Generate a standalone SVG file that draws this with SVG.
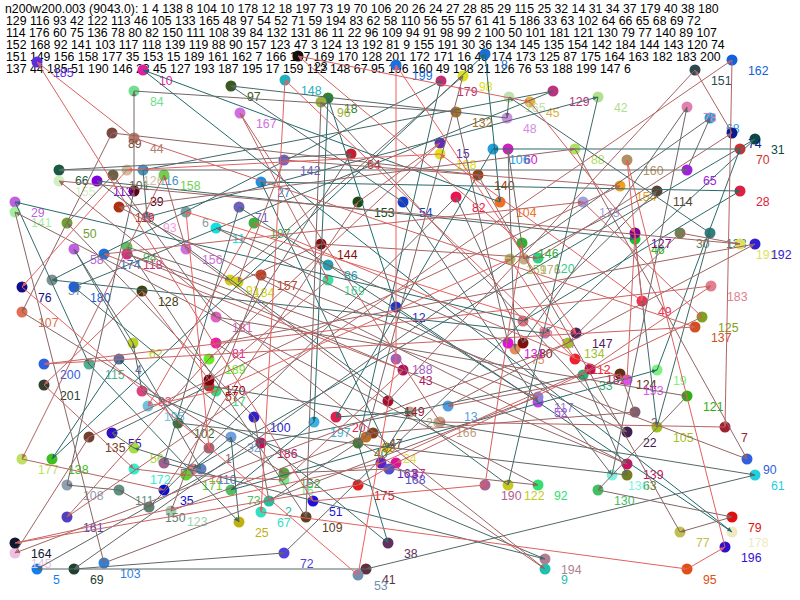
<svg xmlns="http://www.w3.org/2000/svg" width="800" height="600" viewBox="0 0 800 600">
<style>
text{font-family:"Liberation Sans",Arial,sans-serif;font-size:12.3px}
.hd text{fill:#000}
#edges line{stroke-width:1;fill:none}
</style>
<defs>
<marker id="m0" markerUnits="userSpaceOnUse" markerWidth="6" markerHeight="6" refX="5" refY="2" orient="auto"><path d="M0,0L5,2L0,4z" fill="#1f6a6a"/></marker>
<marker id="m1" markerUnits="userSpaceOnUse" markerWidth="6" markerHeight="6" refX="5" refY="2" orient="auto"><path d="M0,0L5,2L0,4z" fill="#2a6969"/></marker>
<marker id="m2" markerUnits="userSpaceOnUse" markerWidth="6" markerHeight="6" refX="5" refY="2" orient="auto"><path d="M0,0L5,2L0,4z" fill="#356969"/></marker>
<marker id="m3" markerUnits="userSpaceOnUse" markerWidth="6" markerHeight="6" refX="5" refY="2" orient="auto"><path d="M0,0L5,2L0,4z" fill="#3f6868"/></marker>
<marker id="m4" markerUnits="userSpaceOnUse" markerWidth="6" markerHeight="6" refX="5" refY="2" orient="auto"><path d="M0,0L5,2L0,4z" fill="#4a6868"/></marker>
<marker id="m5" markerUnits="userSpaceOnUse" markerWidth="6" markerHeight="6" refX="5" refY="2" orient="auto"><path d="M0,0L5,2L0,4z" fill="#556767"/></marker>
<marker id="m6" markerUnits="userSpaceOnUse" markerWidth="6" markerHeight="6" refX="5" refY="2" orient="auto"><path d="M0,0L5,2L0,4z" fill="#606767"/></marker>
<marker id="m7" markerUnits="userSpaceOnUse" markerWidth="6" markerHeight="6" refX="5" refY="2" orient="auto"><path d="M0,0L5,2L0,4z" fill="#6a6666"/></marker>
<marker id="m8" markerUnits="userSpaceOnUse" markerWidth="6" markerHeight="6" refX="5" refY="2" orient="auto"><path d="M0,0L5,2L0,4z" fill="#756666"/></marker>
<marker id="m9" markerUnits="userSpaceOnUse" markerWidth="6" markerHeight="6" refX="5" refY="2" orient="auto"><path d="M0,0L5,2L0,4z" fill="#806565"/></marker>
<marker id="m10" markerUnits="userSpaceOnUse" markerWidth="6" markerHeight="6" refX="5" refY="2" orient="auto"><path d="M0,0L5,2L0,4z" fill="#8a6565"/></marker>
<marker id="m11" markerUnits="userSpaceOnUse" markerWidth="6" markerHeight="6" refX="5" refY="2" orient="auto"><path d="M0,0L5,2L0,4z" fill="#956464"/></marker>
<marker id="m12" markerUnits="userSpaceOnUse" markerWidth="6" markerHeight="6" refX="5" refY="2" orient="auto"><path d="M0,0L5,2L0,4z" fill="#a06464"/></marker>
<marker id="m13" markerUnits="userSpaceOnUse" markerWidth="6" markerHeight="6" refX="5" refY="2" orient="auto"><path d="M0,0L5,2L0,4z" fill="#aa6363"/></marker>
<marker id="m14" markerUnits="userSpaceOnUse" markerWidth="6" markerHeight="6" refX="5" refY="2" orient="auto"><path d="M0,0L5,2L0,4z" fill="#b56363"/></marker>
<marker id="m15" markerUnits="userSpaceOnUse" markerWidth="6" markerHeight="6" refX="5" refY="2" orient="auto"><path d="M0,0L5,2L0,4z" fill="#c06262"/></marker>
<marker id="m16" markerUnits="userSpaceOnUse" markerWidth="6" markerHeight="6" refX="5" refY="2" orient="auto"><path d="M0,0L5,2L0,4z" fill="#cb6262"/></marker>
<marker id="m17" markerUnits="userSpaceOnUse" markerWidth="6" markerHeight="6" refX="5" refY="2" orient="auto"><path d="M0,0L5,2L0,4z" fill="#d56161"/></marker>
<marker id="m18" markerUnits="userSpaceOnUse" markerWidth="6" markerHeight="6" refX="5" refY="2" orient="auto"><path d="M0,0L5,2L0,4z" fill="#e06161"/></marker>
<marker id="m19" markerUnits="userSpaceOnUse" markerWidth="6" markerHeight="6" refX="5" refY="2" orient="auto"><path d="M0,0L5,2L0,4z" fill="#eb6060"/></marker>
</defs>
<rect width="800" height="600" fill="#fff"/>
<g class="hd" id="header">
<text x="5" y="13">n200w200.003 (9043.0): 1 4 138 8 104 10 178 12 18 197 73 19 70 106 20 26 24 27 28 85 29 115 25 32 14 31 34 37 179 40 38 180</text>
<text x="6" y="25">129 116 93 42 122 113 46 105 133 165 48 97 54 52 71 59 194 83 62 58 110 56 55 57 61 41 5 186 33 63 102 64 66 65 68 69 72</text>
<text x="6" y="37">114 176 60 75 136 78 80 82 150 111 108 39 84 132 131 86 11 22 96 109 94 91 98 99 2 100 50 101 181 121 130 79 77 140 89 107</text>
<text x="6" y="49">152 168 92 141 103 117 118 139 119 88 90 157 123 47 3 124 13 192 81 9 155 191 30 36 134 145 135 154 142 184 144 143 120 74</text>
<text x="6" y="61">151 149 156 158 177 35 153 15 189 161 162 7 166 167 169 170 128 201 172 171 16 43 174 173 125 87 175 164 163 182 183 200</text>
<text x="6" y="73">137 44 185 51 190 146 23 45 127 193 187 195 17 159 112 148 67 95 196 160 49 198 21 126 76 53 188 199 147 6</text>
</g>
<g id="nodes">
<g id="n1" fill="#b06070"><text x="225" y="463">1</text><circle cx="209" cy="448" r="5.5"/></g>
<g id="n2" fill="#20c0a0"><text x="285" y="516">2</text><circle cx="269" cy="501" r="5.5"/></g>
<g id="n3" fill="#806070"><text x="651" y="427">3</text><circle cx="635" cy="412" r="5.5"/></g>
<g id="n4" fill="#6070a0"><text x="135" y="374">4</text><circle cx="119" cy="359" r="5.5"/></g>
<g id="n5" fill="#1080f0"><text x="53" y="584">5</text><circle cx="37" cy="569" r="5.5"/></g>
<g id="n6" fill="#80a0a0"><text x="202" y="227">6</text><circle cx="186" cy="212" r="5.5"/></g>
<g id="n7" fill="#a02030"><text x="741" y="442">7</text><circle cx="725" cy="427" r="5.5"/></g>
<g id="n8" fill="#1a70d0"><text x="501" y="69">8</text><circle cx="485" cy="54" r="5.5"/></g>
<g id="n9" fill="#20c0b0"><text x="561" y="584">9</text><circle cx="545" cy="569" r="5.5"/></g>
<g id="n10" fill="#e020a0"><text x="159" y="85">10</text><circle cx="143" cy="70" r="5.5"/></g>
<g id="n11" fill="#10e0e0"><text x="232" y="243">11</text><circle cx="216" cy="228" r="5.5"/></g>
<g id="n12" fill="#2030d0"><text x="412" y="322">12</text><circle cx="396" cy="307" r="5.5"/></g>
<g id="n13" fill="#50a0e0"><text x="464" y="421">13</text><circle cx="448" cy="406" r="5.5"/></g>
<g id="n14" fill="#e08080"><text x="209" y="484">14</text><circle cx="193" cy="469" r="5.5"/></g>
<g id="n15" fill="#6030b0"><text x="456" y="158">15</text><circle cx="440" cy="143" r="5.5"/></g>
<g id="n16" fill="#70f090"><text x="300" y="495">16</text><circle cx="284" cy="480" r="5.5"/></g>
<g id="n17" fill="#30e080"><text x="232" y="406">17</text><circle cx="216" cy="391" r="5.5"/></g>
<g id="n18" fill="#308030"><text x="344" y="113">18</text><circle cx="328" cy="98" r="5.5"/></g>
<g id="n19" fill="#80f080"><text x="673" y="385">19</text><circle cx="657" cy="370" r="5.5"/></g>
<g id="n20" fill="#e02050"><text x="352" y="432">20</text><circle cx="336" cy="417" r="5.5"/></g>
<g id="n22" fill="#402050"><text x="643" y="447">22</text><circle cx="627" cy="432" r="5.5"/></g>
<g id="n23" fill="#101010"><text x="314" y="71">23</text><circle cx="298" cy="56" r="5.5"/></g>
<g id="n24" fill="#e0e040"><text x="403" y="463">24</text><circle cx="387" cy="448" r="5.5"/></g>
<g id="n25" fill="#c0b010"><text x="255" y="537">25</text><circle cx="239" cy="522" r="5.5"/></g>
<g id="n26" fill="#c0a080"><text x="426" y="427">26</text><circle cx="410" cy="412" r="5.5"/></g>
<g id="n27" fill="#2090e0"><text x="277" y="197">27</text><circle cx="261" cy="182" r="5.5"/></g>
<g id="n28" fill="#e02040"><text x="756" y="206">28</text><circle cx="740" cy="191" r="5.5"/></g>
<g id="n29" fill="#c060e0"><text x="31" y="217">29</text><circle cx="15" cy="202" r="5.5"/></g>
<g id="n30" fill="#708050"><text x="696" y="248">30</text><circle cx="680" cy="233" r="5.5"/></g>
<g id="n31" fill="#0a4a40"><text x="771" y="154">31</text><circle cx="755" cy="139" r="5.5"/></g>
<g id="n32" fill="#70a0e0"><text x="247" y="452">32</text><circle cx="231" cy="437" r="5.5"/></g>
<g id="n33" fill="#30b070"><text x="599" y="390">33</text><circle cx="583" cy="375" r="5.5"/></g>
<g id="n34" fill="#c070a0"><text x="561" y="348">34</text><circle cx="545" cy="333" r="5.5"/></g>
<g id="n35" fill="#1010d0"><text x="180" y="505">35</text><circle cx="164" cy="490" r="5.5"/></g>
<g id="n37" fill="#809090"><text x="68" y="295">37</text><circle cx="52" cy="280" r="5.5"/></g>
<g id="n38" fill="#603060"><text x="404" y="558">38</text><circle cx="388" cy="543" r="5.5"/></g>
<g id="n39" fill="#600020"><text x="150" y="206">39</text><circle cx="134" cy="191" r="5.5"/></g>
<g id="n40" fill="#408030"><text x="374" y="458">40</text><circle cx="358" cy="443" r="5.5"/></g>
<g id="n41" fill="#603040"><text x="382" y="584">41</text><circle cx="366" cy="569" r="5.5"/></g>
<g id="n42" fill="#b0e090"><text x="614" y="112">42</text><circle cx="598" cy="97" r="5.5"/></g>
<g id="n43" fill="#b01060"><text x="419" y="385">43</text><circle cx="403" cy="370" r="5.5"/></g>
<g id="n44" fill="#b08070"><text x="150" y="153">44</text><circle cx="134" cy="138" r="5.5"/></g>
<g id="n45" fill="#e0b040"><text x="546" y="117">45</text><circle cx="530" cy="102" r="5.5"/></g>
<g id="n46" fill="#20c020"><text x="651" y="254">46</text><circle cx="635" cy="239" r="5.5"/></g>
<g id="n47" fill="#804020"><text x="389" y="448">47</text><circle cx="373" cy="433" r="5.5"/></g>
<g id="n48" fill="#d090e0"><text x="523" y="133">48</text><circle cx="507" cy="118" r="5.5"/></g>
<g id="n49" fill="#f03050"><text x="658" y="316">49</text><circle cx="642" cy="301" r="5.5"/></g>
<g id="n50" fill="#70a030"><text x="83" y="238">50</text><circle cx="67" cy="223" r="5.5"/></g>
<g id="n51" fill="#2010e0"><text x="329" y="516">51</text><circle cx="313" cy="501" r="5.5"/></g>
<g id="n52" fill="#c040f0"><text x="554" y="417">52</text><circle cx="538" cy="402" r="5.5"/></g>
<g id="n53" fill="#7090b0"><text x="374" y="590">53</text><circle cx="358" cy="575" r="5.5"/></g>
<g id="n54" fill="#1040d0"><text x="419" y="217">54</text><circle cx="403" cy="202" r="5.5"/></g>
<g id="n55" fill="#3010c0"><text x="128" y="448">55</text><circle cx="112" cy="433" r="5.5"/></g>
<g id="n56" fill="#a0e040"><text x="150" y="463">56</text><circle cx="134" cy="448" r="5.5"/></g>
<g id="n57" fill="#c03020"><text x="225" y="401">57</text><circle cx="209" cy="386" r="5.5"/></g>
<g id="n58" fill="#c060e0"><text x="90" y="264">58</text><circle cx="74" cy="249" r="5.5"/></g>
<g id="n59" fill="#a06090"><text x="180" y="478">59</text><circle cx="164" cy="463" r="5.5"/></g>
<g id="n60" fill="#d020c0"><text x="524" y="164">60</text><circle cx="508" cy="149" r="5.5"/></g>
<g id="n61" fill="#20d0e0"><text x="771" y="490">61</text><circle cx="755" cy="475" r="5.5"/></g>
<g id="n62" fill="#c0d020"><text x="149" y="358">62</text><circle cx="133" cy="343" r="5.5"/></g>
<g id="n63" fill="#708020"><text x="643" y="490">63</text><circle cx="627" cy="475" r="5.5"/></g>
<g id="n64" fill="#c02030"><text x="367" y="169">64</text><circle cx="351" cy="154" r="5.5"/></g>
<g id="n65" fill="#a020e0"><text x="703" y="185">65</text><circle cx="687" cy="170" r="5.5"/></g>
<g id="n66" fill="#1a5a40"><text x="75" y="185">66</text><circle cx="59" cy="170" r="5.5"/></g>
<g id="n67" fill="#30e0c0"><text x="277" y="527">67</text><circle cx="261" cy="512" r="5.5"/></g>
<g id="n68" fill="#20a0e0"><text x="726" y="133">68</text><circle cx="710" cy="118" r="5.5"/></g>
<g id="n69" fill="#204030"><text x="90" y="584">69</text><circle cx="74" cy="569" r="5.5"/></g>
<g id="n70" fill="#d03030"><text x="756" y="164">70</text><circle cx="740" cy="149" r="5.5"/></g>
<g id="n71" fill="#7060c0"><text x="255" y="222">71</text><circle cx="239" cy="207" r="5.5"/></g>
<g id="n72" fill="#5040e0"><text x="300" y="568">72</text><circle cx="284" cy="553" r="5.5"/></g>
<g id="n73" fill="#50c060"><text x="247" y="505">73</text><circle cx="231" cy="490" r="5.5"/></g>
<g id="n74" fill="#0a1a90"><text x="748" y="148">74</text><circle cx="732" cy="133" r="5.5"/></g>
<g id="n75" fill="#e09060"><text x="531" y="364">75</text><circle cx="515" cy="349" r="5.5"/></g>
<g id="n76" fill="#10108a"><text x="38" y="302">76</text><circle cx="22" cy="287" r="5.5"/></g>
<g id="n77" fill="#c0c050"><text x="696" y="547">77</text><circle cx="680" cy="532" r="5.5"/></g>
<g id="n78" fill="#e080b0"><text x="703" y="122">78</text><circle cx="687" cy="107" r="5.5"/></g>
<g id="n79" fill="#e01010"><text x="748" y="532">79</text><circle cx="732" cy="517" r="5.5"/></g>
<g id="n80" fill="#801010"><text x="539" y="358">80</text><circle cx="523" cy="343" r="5.5"/></g>
<g id="n81" fill="#f020a0"><text x="232" y="358">81</text><circle cx="216" cy="343" r="5.5"/></g>
<g id="n82" fill="#f01050"><text x="472" y="212">82</text><circle cx="456" cy="197" r="5.5"/></g>
<g id="n83" fill="#e04080"><text x="158" y="406">83</text><circle cx="142" cy="391" r="5.5"/></g>
<g id="n84" fill="#70e090"><text x="150" y="106">84</text><circle cx="134" cy="91" r="5.5"/></g>
<g id="n85" fill="#e07080"><text x="539" y="336">85</text><circle cx="523" cy="321" r="5.5"/></g>
<g id="n86" fill="#20a0b0"><text x="344" y="280">86</text><circle cx="328" cy="265" r="5.5"/></g>
<g id="n87" fill="#e010a0"><text x="412" y="478">87</text><circle cx="396" cy="463" r="5.5"/></g>
<g id="n88" fill="#b0e060"><text x="591" y="164">88</text><circle cx="575" cy="149" r="5.5"/></g>
<g id="n89" fill="#7a4a40"><text x="128" y="148">89</text><circle cx="112" cy="133" r="5.5"/></g>
<g id="n90" fill="#3060e0"><text x="763" y="474">90</text><circle cx="747" cy="459" r="5.5"/></g>
<g id="n91" fill="#d0d020"><text x="246" y="295">91</text><circle cx="230" cy="280" r="5.5"/></g>
<g id="n92" fill="#30e070"><text x="554" y="500">92</text><circle cx="538" cy="485" r="5.5"/></g>
<g id="n93" fill="#f0a0e0"><text x="163" y="232">93</text><circle cx="147" cy="217" r="5.5"/></g>
<g id="n94" fill="#60c060"><text x="143" y="262">94</text><circle cx="127" cy="247" r="5.5"/></g>
<g id="n95" fill="#e05010"><text x="703" y="584">95</text><circle cx="687" cy="569" r="5.5"/></g>
<g id="n96" fill="#a0b040"><text x="337" y="117">96</text><circle cx="321" cy="102" r="5.5"/></g>
<g id="n97" fill="#3a5a20"><text x="247" y="101">97</text><circle cx="231" cy="86" r="5.5"/></g>
<g id="n98" fill="#e0e020"><text x="479" y="91">98</text><circle cx="463" cy="76" r="5.5"/></g>
<g id="n99" fill="#c07020"><text x="382" y="452">99</text><circle cx="366" cy="437" r="5.5"/></g>
<g id="n100" fill="#3020d0"><text x="270" y="432">100</text><circle cx="254" cy="417" r="5.5"/></g>
<g id="n101" fill="#706040"><text x="129" y="190">101</text><circle cx="113" cy="175" r="5.5"/></g>
<g id="n102" fill="#407030"><text x="194" y="438">102</text><circle cx="178" cy="423" r="5.5"/></g>
<g id="n103" fill="#3080e0"><text x="120" y="578">103</text><circle cx="104" cy="563" r="5.5"/></g>
<g id="n104" fill="#f07020"><text x="516" y="217">104</text><circle cx="500" cy="202" r="5.5"/></g>
<g id="n105" fill="#a0c020"><text x="673" y="442">105</text><circle cx="657" cy="427" r="5.5"/></g>
<g id="n106" fill="#20a0e0"><text x="509" y="164">106</text><circle cx="493" cy="149" r="5.5"/></g>
<g id="n107" fill="#e07050"><text x="38" y="327">107</text><circle cx="22" cy="312" r="5.5"/></g>
<g id="n108" fill="#90a0b0"><text x="83" y="500">108</text><circle cx="67" cy="485" r="5.5"/></g>
<g id="n109" fill="#604020"><text x="322" y="532">109</text><circle cx="306" cy="517" r="5.5"/></g>
<g id="n110" fill="#6080c0"><text x="217" y="484">110</text><circle cx="201" cy="469" r="5.5"/></g>
<g id="n111" fill="#609080"><text x="135" y="505">111</text><circle cx="119" cy="490" r="5.5"/></g>
<g id="n112" fill="#f02030"><text x="591" y="374">112</text><circle cx="575" cy="359" r="5.5"/></g>
<g id="n113" fill="#8000e0"><text x="113" y="196">113</text><circle cx="97" cy="181" r="5.5"/></g>
<g id="n114" fill="#604030"><text x="673" y="206">114</text><circle cx="657" cy="191" r="5.5"/></g>
<g id="n115" fill="#50b090"><text x="105" y="379">115</text><circle cx="89" cy="364" r="5.5"/></g>
<g id="n116" fill="#4a90c0"><text x="159" y="185">116</text><circle cx="143" cy="170" r="5.5"/></g>
<g id="n117" fill="#9080e0"><text x="554" y="412">117</text><circle cx="538" cy="397" r="5.5"/></g>
<g id="n118" fill="#d03080"><text x="143" y="269">118</text><circle cx="127" cy="254" r="5.5"/></g>
<g id="n119" fill="#b03010"><text x="135" y="222">119</text><circle cx="119" cy="207" r="5.5"/></g>
<g id="n120" fill="#30d080"><text x="554" y="273">120</text><circle cx="538" cy="258" r="5.5"/></g>
<g id="n121" fill="#30b010"><text x="703" y="411">121</text><circle cx="687" cy="396" r="5.5"/></g>
<g id="n122" fill="#c8c820"><text x="524" y="500">122</text><circle cx="508" cy="485" r="5.5"/></g>
<g id="n123" fill="#a0d0b0"><text x="187" y="526">123</text><circle cx="171" cy="511" r="5.5"/></g>
<g id="n124" fill="#603010"><text x="636" y="389">124</text><circle cx="620" cy="374" r="5.5"/></g>
<g id="n125" fill="#80a020"><text x="718" y="332">125</text><circle cx="702" cy="317" r="5.5"/></g>
<g id="n126" fill="#d0c0a0"><text x="143" y="185">126</text><circle cx="127" cy="170" r="5.5"/></g>
<g id="n127" fill="#800090"><text x="651" y="248">127</text><circle cx="635" cy="233" r="5.5"/></g>
<g id="n128" fill="#404010"><text x="158" y="306">128</text><circle cx="142" cy="291" r="5.5"/></g>
<g id="n129" fill="#c03080"><text x="569" y="106">129</text><circle cx="553" cy="91" r="5.5"/></g>
<g id="n130" fill="#40c060"><text x="614" y="505">130</text><circle cx="598" cy="490" r="5.5"/></g>
<g id="n131" fill="#e010e0"><text x="524" y="358">131</text><circle cx="508" cy="343" r="5.5"/></g>
<g id="n132" fill="#b07020"><text x="472" y="127">132</text><circle cx="456" cy="112" r="5.5"/></g>
<g id="n133" fill="#308080"><text x="726" y="248">133</text><circle cx="710" cy="233" r="5.5"/></g>
<g id="n134" fill="#a0c030"><text x="584" y="358">134</text><circle cx="568" cy="343" r="5.5"/></g>
<g id="n135" fill="#704030"><text x="105" y="452">135</text><circle cx="89" cy="437" r="5.5"/></g>
<g id="n136" fill="#80f0e0"><text x="628" y="490">136</text><circle cx="612" cy="475" r="5.5"/></g>
<g id="n137" fill="#d05020"><text x="711" y="342">137</text><circle cx="695" cy="327" r="5.5"/></g>
<g id="n138" fill="#40c020"><text x="68" y="474">138</text><circle cx="52" cy="459" r="5.5"/></g>
<g id="n139" fill="#d01060"><text x="643" y="479">139</text><circle cx="627" cy="464" r="5.5"/></g>
<g id="n140" fill="#a04010"><text x="494" y="190">140</text><circle cx="478" cy="175" r="5.5"/></g>
<g id="n141" fill="#a0f0a0"><text x="31" y="227">141</text><circle cx="15" cy="212" r="5.5"/></g>
<g id="n142" fill="#7060d0"><text x="300" y="175">142</text><circle cx="284" cy="160" r="5.5"/></g>
<g id="n144" fill="#801010"><text x="337" y="259">144</text><circle cx="321" cy="244" r="5.5"/></g>
<g id="n145" fill="#f0c0e0"><text x="31" y="568">145</text><circle cx="15" cy="553" r="5.5"/></g>
<g id="n146" fill="#30b030"><text x="538" y="258">146</text><circle cx="522" cy="243" r="5.5"/></g>
<g id="n147" fill="#502060"><text x="592" y="348">147</text><circle cx="576" cy="333" r="5.5"/></g>
<g id="n148" fill="#20b0c0"><text x="301" y="95">148</text><circle cx="285" cy="80" r="5.5"/></g>
<g id="n149" fill="#a01030"><text x="404" y="416">149</text><circle cx="388" cy="401" r="5.5"/></g>
<g id="n150" fill="#608070"><text x="165" y="522">150</text><circle cx="149" cy="507" r="5.5"/></g>
<g id="n151" fill="#2a4a50"><text x="711" y="85">151</text><circle cx="695" cy="70" r="5.5"/></g>
<g id="n152" fill="#60a040"><text x="300" y="488">152</text><circle cx="284" cy="473" r="5.5"/></g>
<g id="n153" fill="#1a4a10"><text x="374" y="217">153</text><circle cx="358" cy="202" r="5.5"/></g>
<g id="n154" fill="#f0a020"><text x="636" y="201">154</text><circle cx="620" cy="186" r="5.5"/></g>
<g id="n155" fill="#d0f0c0"><text x="75" y="196">155</text><circle cx="59" cy="181" r="5.5"/></g>
<g id="n156" fill="#d070e0"><text x="202" y="264">156</text><circle cx="186" cy="249" r="5.5"/></g>
<g id="n157" fill="#c04020"><text x="277" y="290">157</text><circle cx="261" cy="275" r="5.5"/></g>
<g id="n158" fill="#70d050"><text x="180" y="190">158</text><circle cx="164" cy="175" r="5.5"/></g>
<g id="n159" fill="#b0c060"><text x="526" y="274">159</text><circle cx="510" cy="259" r="5.5"/></g>
<g id="n160" fill="#b09060"><text x="643" y="175">160</text><circle cx="627" cy="160" r="5.5"/></g>
<g id="n161" fill="#5040c0"><text x="83" y="532">161</text><circle cx="67" cy="517" r="5.5"/></g>
<g id="n162" fill="#1060e0"><text x="748" y="75">162</text><circle cx="732" cy="60" r="5.5"/></g>
<g id="n163" fill="#6020c0"><text x="397" y="478">163</text><circle cx="381" cy="463" r="5.5"/></g>
<g id="n164" fill="#101830"><text x="31" y="558">164</text><circle cx="15" cy="543" r="5.5"/></g>
<g id="n165" fill="#c0e0b0"><text x="525" y="112">165</text><circle cx="509" cy="97" r="5.5"/></g>
<g id="n166" fill="#c0a080"><text x="456" y="437">166</text><circle cx="440" cy="422" r="5.5"/></g>
<g id="n167" fill="#d070e0"><text x="256" y="128">167</text><circle cx="240" cy="113" r="5.5"/></g>
<g id="n168" fill="#5050d0"><text x="405" y="484">168</text><circle cx="389" cy="469" r="5.5"/></g>
<g id="n169" fill="#40e0a0"><text x="344" y="295">169</text><circle cx="328" cy="280" r="5.5"/></g>
<g id="n170" fill="#800010"><text x="225" y="395">170</text><circle cx="209" cy="380" r="5.5"/></g>
<g id="n171" fill="#60d030"><text x="202" y="490">171</text><circle cx="186" cy="475" r="5.5"/></g>
<g id="n172" fill="#30f0d0"><text x="150" y="484">172</text><circle cx="134" cy="469" r="5.5"/></g>
<g id="n173" fill="#a0a0e0"><text x="599" y="217">173</text><circle cx="583" cy="202" r="5.5"/></g>
<g id="n174" fill="#2070e0"><text x="120" y="269">174</text><circle cx="104" cy="254" r="5.5"/></g>
<g id="n175" fill="#e02020"><text x="374" y="500">175</text><circle cx="358" cy="485" r="5.5"/></g>
<g id="n176" fill="#c0b080"><text x="540" y="274">176</text><circle cx="524" cy="259" r="5.5"/></g>
<g id="n177" fill="#c0e060"><text x="38" y="474">177</text><circle cx="22" cy="459" r="5.5"/></g>
<g id="n178" fill="#f0e8c0"><text x="748" y="547">178</text><circle cx="732" cy="532" r="5.5"/></g>
<g id="n179" fill="#c03070"><text x="457" y="96">179</text><circle cx="441" cy="81" r="5.5"/></g>
<g id="n180" fill="#2060e0"><text x="90" y="302">180</text><circle cx="74" cy="287" r="5.5"/></g>
<g id="n181" fill="#e060c0"><text x="232" y="332">181</text><circle cx="216" cy="317" r="5.5"/></g>
<g id="n182" fill="#c01050"><text x="606" y="384">182</text><circle cx="590" cy="369" r="5.5"/></g>
<g id="n183" fill="#e08090"><text x="727" y="301">183</text><circle cx="711" cy="286" r="5.5"/></g>
<g id="n184" fill="#d0d020"><text x="254" y="297">184</text><circle cx="238" cy="282" r="5.5"/></g>
<g id="n185" fill="#5a2ee0"><text x="53" y="77">185</text><circle cx="37" cy="62" r="5.5"/></g>
<g id="n186" fill="#c01060"><text x="277" y="458">186</text><circle cx="261" cy="443" r="5.5"/></g>
<g id="n187" fill="#40b040"><text x="270" y="238">187</text><circle cx="254" cy="223" r="5.5"/></g>
<g id="n188" fill="#a060c0"><text x="412" y="374">188</text><circle cx="396" cy="359" r="5.5"/></g>
<g id="n189" fill="#60f020"><text x="225" y="374">189</text><circle cx="209" cy="359" r="5.5"/></g>
<g id="n190" fill="#b06090"><text x="501" y="500">190</text><circle cx="485" cy="485" r="5.5"/></g>
<g id="n191" fill="#e0e060"><text x="756" y="259">191</text><circle cx="740" cy="244" r="5.5"/></g>
<g id="n192" fill="#3020d0"><text x="771" y="259">192</text><circle cx="755" cy="244" r="5.5"/></g>
<g id="n193" fill="#e050f0"><text x="643" y="395">193</text><circle cx="627" cy="380" r="5.5"/></g>
<g id="n194" fill="#b08090"><text x="561" y="574">194</text><circle cx="545" cy="559" r="5.5"/></g>
<g id="n195" fill="#70c0e0"><text x="164" y="421">195</text><circle cx="148" cy="406" r="5.5"/></g>
<g id="n196" fill="#3010d0"><text x="741" y="562">196</text><circle cx="725" cy="547" r="5.5"/></g>
<g id="n197" fill="#40b0e0"><text x="330" y="437">197</text><circle cx="314" cy="422" r="5.5"/></g>
<g id="n198" fill="#e0e020"><text x="456" y="169">198</text><circle cx="440" cy="154" r="5.5"/></g>
<g id="n199" fill="#1a70e0"><text x="412" y="80">199</text><circle cx="396" cy="65" r="5.5"/></g>
<g id="n200" fill="#3060e0"><text x="60" y="379">200</text><circle cx="44" cy="364" r="5.5"/></g>
<g id="n201" fill="#304030"><text x="60" y="400">201</text><circle cx="44" cy="385" r="5.5"/></g>
</g>
<g id="edges">
<g stroke="#1f6a6a" marker-end="url(#m0)"><line x1="209" y1="448" x2="119" y2="359"/><line x1="119" y1="359" x2="52" y2="459"/><line x1="52" y1="459" x2="485" y2="54"/><line x1="485" y1="54" x2="500" y2="202"/><line x1="500" y1="202" x2="143" y2="70"/><line x1="143" y1="70" x2="732" y2="532"/><line x1="732" y1="532" x2="396" y2="307"/><line x1="396" y1="307" x2="328" y2="98"/><line x1="328" y1="98" x2="314" y2="422"/><line x1="314" y1="422" x2="231" y2="490"/></g>
<g stroke="#2a6969" marker-end="url(#m1)"><line x1="231" y1="490" x2="657" y2="370"/><line x1="657" y1="370" x2="740" y2="149"/><line x1="740" y1="149" x2="493" y2="149"/><line x1="493" y1="149" x2="336" y2="417"/><line x1="336" y1="417" x2="410" y2="412"/><line x1="410" y1="412" x2="387" y2="448"/><line x1="387" y1="448" x2="261" y2="182"/><line x1="261" y1="182" x2="740" y2="191"/><line x1="740" y1="191" x2="523" y2="321"/><line x1="523" y1="321" x2="15" y2="202"/></g>
<g stroke="#356969" marker-end="url(#m2)"><line x1="15" y1="202" x2="89" y2="364"/><line x1="89" y1="364" x2="239" y2="522"/><line x1="239" y1="522" x2="231" y2="437"/><line x1="231" y1="437" x2="193" y2="469"/><line x1="193" y1="469" x2="755" y2="139"/><line x1="755" y1="139" x2="545" y2="333"/><line x1="545" y1="333" x2="52" y2="280"/><line x1="52" y1="280" x2="441" y2="81"/><line x1="441" y1="81" x2="358" y2="443"/><line x1="358" y1="443" x2="388" y2="543"/></g>
<g stroke="#3f6868" marker-end="url(#m3)"><line x1="388" y1="543" x2="74" y2="287"/><line x1="74" y1="287" x2="553" y2="91"/><line x1="553" y1="91" x2="143" y2="170"/><line x1="143" y1="170" x2="147" y2="217"/><line x1="147" y1="217" x2="598" y2="97"/><line x1="598" y1="97" x2="508" y2="485"/><line x1="508" y1="485" x2="97" y2="181"/><line x1="97" y1="181" x2="635" y2="239"/><line x1="635" y1="239" x2="657" y2="427"/><line x1="657" y1="427" x2="710" y2="233"/></g>
<g stroke="#4a6868" marker-end="url(#m4)"><line x1="710" y1="233" x2="509" y2="97"/><line x1="509" y1="97" x2="507" y2="118"/><line x1="507" y1="118" x2="231" y2="86"/><line x1="231" y1="86" x2="403" y2="202"/><line x1="403" y1="202" x2="538" y2="402"/><line x1="538" y1="402" x2="239" y2="207"/><line x1="239" y1="207" x2="164" y2="463"/><line x1="164" y1="463" x2="545" y2="559"/><line x1="545" y1="559" x2="142" y2="391"/><line x1="142" y1="391" x2="133" y2="343"/></g>
<g stroke="#556767" marker-end="url(#m5)"><line x1="133" y1="343" x2="74" y2="249"/><line x1="74" y1="249" x2="201" y2="469"/><line x1="201" y1="469" x2="134" y2="448"/><line x1="134" y1="448" x2="112" y2="433"/><line x1="112" y1="433" x2="209" y2="386"/><line x1="209" y1="386" x2="755" y2="475"/><line x1="755" y1="475" x2="366" y2="569"/><line x1="366" y1="569" x2="37" y2="569"/><line x1="37" y1="569" x2="261" y2="443"/><line x1="261" y1="443" x2="583" y2="375"/></g>
<g stroke="#606767" marker-end="url(#m6)"><line x1="583" y1="375" x2="627" y2="475"/><line x1="627" y1="475" x2="178" y2="423"/><line x1="178" y1="423" x2="351" y2="154"/><line x1="351" y1="154" x2="59" y2="170"/><line x1="59" y1="170" x2="687" y2="170"/><line x1="687" y1="170" x2="710" y2="118"/><line x1="710" y1="118" x2="74" y2="569"/><line x1="74" y1="569" x2="284" y2="553"/><line x1="284" y1="553" x2="657" y2="191"/><line x1="657" y1="191" x2="524" y2="259"/></g>
<g stroke="#6a6666" marker-end="url(#m7)"><line x1="524" y1="259" x2="508" y2="149"/><line x1="508" y1="149" x2="515" y2="349"/><line x1="515" y1="349" x2="612" y2="475"/><line x1="612" y1="475" x2="687" y2="107"/><line x1="687" y1="107" x2="523" y2="343"/><line x1="523" y1="343" x2="456" y2="197"/><line x1="456" y1="197" x2="149" y2="507"/><line x1="149" y1="507" x2="119" y2="490"/><line x1="119" y1="490" x2="67" y2="485"/><line x1="67" y1="485" x2="134" y2="191"/></g>
<g stroke="#756666" marker-end="url(#m8)"><line x1="134" y1="191" x2="134" y2="91"/><line x1="134" y1="91" x2="456" y2="112"/><line x1="456" y1="112" x2="508" y2="343"/><line x1="508" y1="343" x2="328" y2="265"/><line x1="328" y1="265" x2="216" y2="228"/><line x1="216" y1="228" x2="627" y2="432"/><line x1="627" y1="432" x2="321" y2="102"/><line x1="321" y1="102" x2="306" y2="517"/><line x1="306" y1="517" x2="127" y2="247"/><line x1="127" y1="247" x2="230" y2="280"/></g>
<g stroke="#806565" marker-end="url(#m9)"><line x1="230" y1="280" x2="463" y2="76"/><line x1="463" y1="76" x2="366" y2="437"/><line x1="366" y1="437" x2="269" y2="501"/><line x1="269" y1="501" x2="254" y2="417"/><line x1="254" y1="417" x2="67" y2="223"/><line x1="67" y1="223" x2="113" y2="175"/><line x1="113" y1="175" x2="216" y2="317"/><line x1="216" y1="317" x2="687" y2="396"/><line x1="687" y1="396" x2="598" y2="490"/><line x1="598" y1="490" x2="732" y2="517"/></g>
<g stroke="#8a6565" marker-end="url(#m10)"><line x1="732" y1="517" x2="680" y2="532"/><line x1="680" y1="532" x2="478" y2="175"/><line x1="478" y1="175" x2="112" y2="133"/><line x1="112" y1="133" x2="22" y2="312"/><line x1="22" y1="312" x2="284" y2="473"/><line x1="284" y1="473" x2="389" y2="469"/><line x1="389" y1="469" x2="538" y2="485"/><line x1="538" y1="485" x2="15" y2="212"/><line x1="15" y1="212" x2="104" y2="563"/><line x1="104" y1="563" x2="538" y2="397"/></g>
<g stroke="#956464" marker-end="url(#m11)"><line x1="538" y1="397" x2="127" y2="254"/><line x1="127" y1="254" x2="627" y2="464"/><line x1="627" y1="464" x2="119" y2="207"/><line x1="119" y1="207" x2="575" y2="149"/><line x1="575" y1="149" x2="747" y2="459"/><line x1="747" y1="459" x2="261" y2="275"/><line x1="261" y1="275" x2="171" y2="511"/><line x1="171" y1="511" x2="373" y2="433"/><line x1="373" y1="433" x2="635" y2="412"/><line x1="635" y1="412" x2="620" y2="374"/></g>
<g stroke="#a06464" marker-end="url(#m12)"><line x1="620" y1="374" x2="448" y2="406"/><line x1="448" y1="406" x2="755" y2="244"/><line x1="755" y1="244" x2="216" y2="343"/><line x1="216" y1="343" x2="545" y2="569"/><line x1="545" y1="569" x2="59" y2="181"/><line x1="59" y1="181" x2="740" y2="244"/><line x1="740" y1="244" x2="680" y2="233"/><line x1="680" y1="233" x2="568" y2="343"/><line x1="568" y1="343" x2="15" y2="553"/><line x1="15" y1="553" x2="89" y2="437"/></g>
<g stroke="#aa6363" marker-end="url(#m13)"><line x1="89" y1="437" x2="620" y2="186"/><line x1="620" y1="186" x2="284" y2="160"/><line x1="284" y1="160" x2="238" y2="282"/><line x1="238" y1="282" x2="321" y2="244"/><line x1="321" y1="244" x2="538" y2="258"/><line x1="538" y1="258" x2="732" y2="133"/><line x1="732" y1="133" x2="695" y2="70"/><line x1="695" y1="70" x2="388" y2="401"/><line x1="388" y1="401" x2="186" y2="249"/><line x1="186" y1="249" x2="164" y2="175"/></g>
<g stroke="#b56363" marker-end="url(#m14)"><line x1="164" y1="175" x2="22" y2="459"/><line x1="22" y1="459" x2="164" y2="490"/><line x1="164" y1="490" x2="358" y2="202"/><line x1="358" y1="202" x2="440" y2="143"/><line x1="440" y1="143" x2="209" y2="359"/><line x1="209" y1="359" x2="67" y2="517"/><line x1="67" y1="517" x2="732" y2="60"/><line x1="732" y1="60" x2="725" y2="427"/><line x1="725" y1="427" x2="440" y2="422"/><line x1="440" y1="422" x2="240" y2="113"/></g>
<g stroke="#c06262" marker-end="url(#m15)"><line x1="240" y1="113" x2="328" y2="280"/><line x1="328" y1="280" x2="209" y2="380"/><line x1="209" y1="380" x2="142" y2="291"/><line x1="142" y1="291" x2="44" y2="385"/><line x1="44" y1="385" x2="134" y2="469"/><line x1="134" y1="469" x2="186" y2="475"/><line x1="186" y1="475" x2="284" y2="480"/><line x1="284" y1="480" x2="403" y2="370"/><line x1="403" y1="370" x2="104" y2="254"/><line x1="104" y1="254" x2="583" y2="202"/></g>
<g stroke="#cb6262" marker-end="url(#m16)"><line x1="583" y1="202" x2="702" y2="317"/><line x1="702" y1="317" x2="396" y2="463"/><line x1="396" y1="463" x2="358" y2="485"/><line x1="358" y1="485" x2="15" y2="543"/><line x1="15" y1="543" x2="381" y2="463"/><line x1="381" y1="463" x2="590" y2="369"/><line x1="590" y1="369" x2="711" y2="286"/><line x1="711" y1="286" x2="44" y2="364"/><line x1="44" y1="364" x2="695" y2="327"/><line x1="695" y1="327" x2="134" y2="138"/></g>
<g stroke="#d56161" marker-end="url(#m17)"><line x1="134" y1="138" x2="37" y2="62"/><line x1="37" y1="62" x2="313" y2="501"/><line x1="313" y1="501" x2="485" y2="485"/><line x1="485" y1="485" x2="522" y2="243"/><line x1="522" y1="243" x2="298" y2="56"/><line x1="298" y1="56" x2="530" y2="102"/><line x1="530" y1="102" x2="635" y2="233"/><line x1="635" y1="233" x2="627" y2="380"/><line x1="627" y1="380" x2="254" y2="223"/><line x1="254" y1="223" x2="148" y2="406"/></g>
<g stroke="#e06161" marker-end="url(#m18)"><line x1="148" y1="406" x2="216" y2="391"/><line x1="216" y1="391" x2="510" y2="259"/><line x1="510" y1="259" x2="575" y2="359"/><line x1="575" y1="359" x2="285" y2="80"/><line x1="285" y1="80" x2="261" y2="512"/><line x1="261" y1="512" x2="687" y2="569"/><line x1="687" y1="569" x2="725" y2="547"/><line x1="725" y1="547" x2="627" y2="160"/><line x1="627" y1="160" x2="642" y2="301"/><line x1="642" y1="301" x2="440" y2="154"/></g>
<g stroke="#eb6060" marker-end="url(#m19)"><line x1="440" y1="154" x2="127" y2="170"/><line x1="127" y1="170" x2="22" y2="287"/><line x1="22" y1="287" x2="358" y2="575"/><line x1="358" y1="575" x2="396" y2="359"/><line x1="396" y1="359" x2="396" y2="65"/><line x1="396" y1="65" x2="576" y2="333"/><line x1="576" y1="333" x2="186" y2="212"/><line x1="186" y1="212" x2="209" y2="448"/></g>
</g>
</svg>
